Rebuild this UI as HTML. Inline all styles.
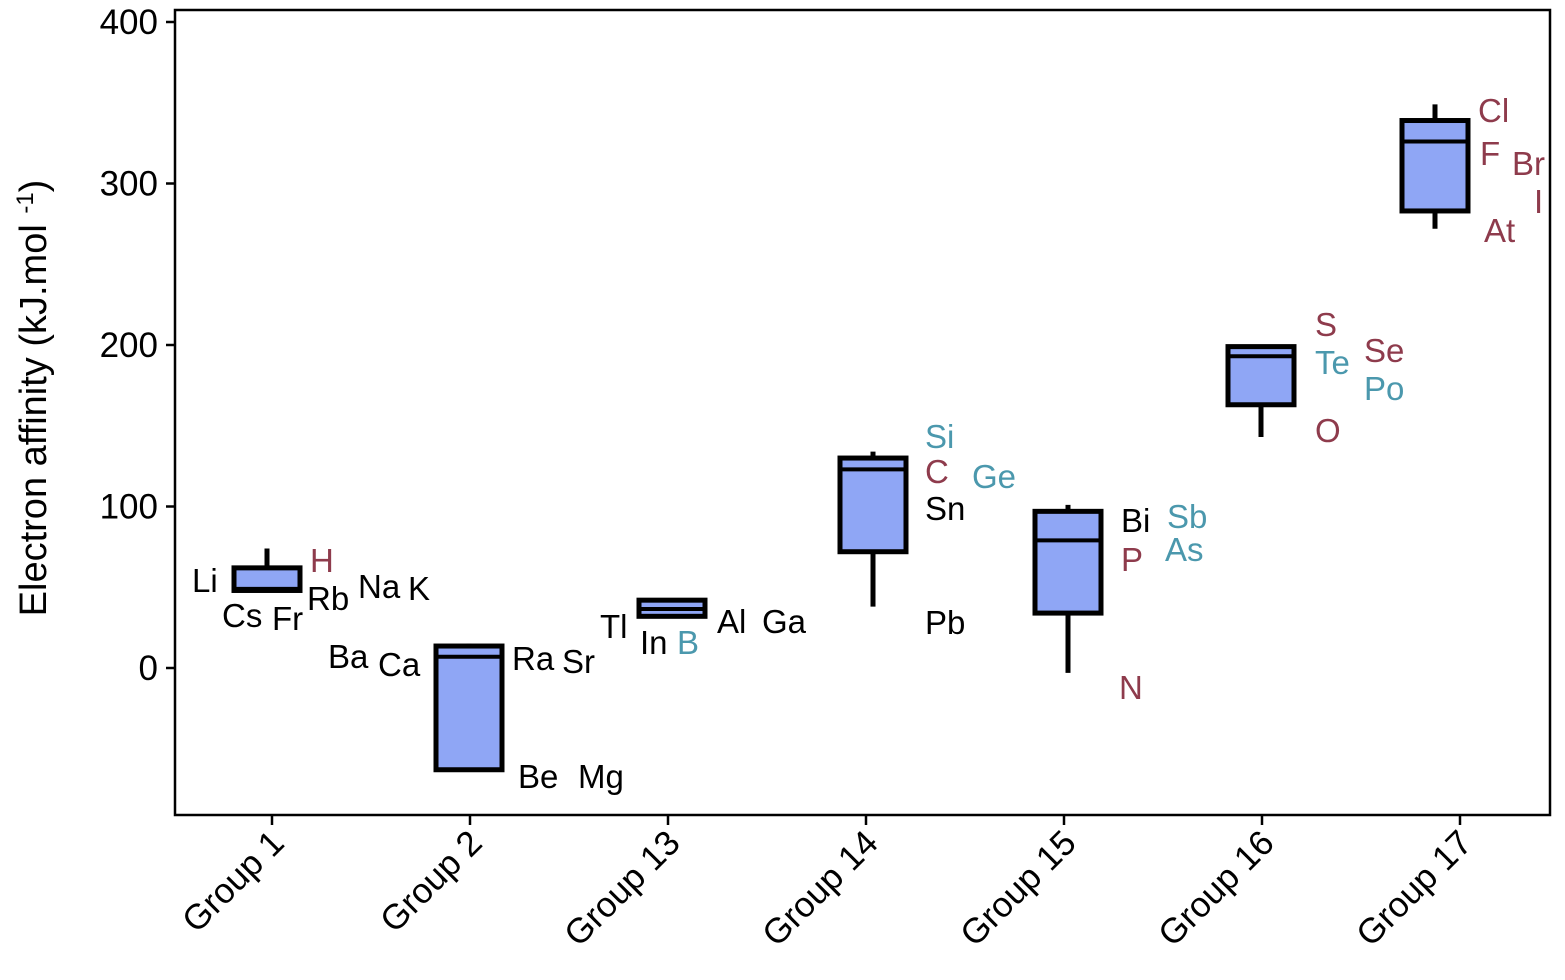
<!DOCTYPE html>
<html><head><meta charset="utf-8"><style>
html,body{margin:0;padding:0;background:#fff;}
svg text{font-family:"Liberation Sans",Arial,sans-serif;}
</style></head><body>
<svg id="chart" width="1565" height="975"></svg>
<script>
const groups=["Group 1","Group 2","Group 13","Group 14","Group 15","Group 16","Group 17"];
const whiskerLow=[47,-63,31,38,-3,143,272];
const q1=[48,-63,32,72,34,163,283];
const median=[49,7,36.5,123,79,193,326];
const q3=[62,13.6,42,130,97,199,339];
const whiskerHigh=[74,15,42,134,101,199,349];
const yTicks=[0,100,200,300,400];
const elemNames=["Li","Cs","Fr","H","Rb","Na","K","Ba","Ca","Ra","Sr","Be","Mg","Tl","In","B","Al","Ga","Si","C","Ge","Sn","Pb","Bi","Sb","P","As","N","S","Se","Te","Po","O","Cl","F","Br","I","At"];
const elemColors=["k","k","k","r","k","k","k","k","k","k","k","k","k","k","k","t","k","k","t","r","t","k","k","k","t","r","t","r","r","r","t","t","r","r","r","r","r","r"];
const elemX=[192,222,272,310,307,358,408,328,378,512,562,518,578,600,640,677,717,762,925,925,972,925,925,1121,1167,1121,1165,1119,1315,1364,1315,1364,1315,1478,1480,1512,1534,1484];
const elemY=[592,627,630,572,610,598,600,668,676,670,673,788,788,638,654,654,633,633,448,483,488,520,634,532,528,571,561,699,336,362,374,400,442,122,165,175,213,242];
const colorMap={k:"#000",r:"#8e3b4c",t:"#4b98ad"};
const boxOffset=[-5,-1,4,7,4,-1,-25];
const NS="http://www.w3.org/2000/svg";
const svg=document.getElementById("chart");
const L=175,R=1550,T=10,B=815;
const y=v=>668-v*1.615;
const x=i=>272+i*198;
function mk(tag,attrs,parent){const e=document.createElementNS(NS,tag);for(const k in attrs)e.setAttribute(k,attrs[k]);(parent||svg).appendChild(e);return e;}
const frame=mk("rect",{x:L,y:T,width:R-L,height:B-T,fill:"none",stroke:"#000","stroke-width":2.5});


yTicks.forEach(t=>{
  const ln=mk("line",{x1:L-9,x2:L,y1:y(t),y2:y(t),stroke:"#000","stroke-width":2.5});
  
  
  const tx=mk("text",{x:L-17,y:y(t)+12,"text-anchor":"end","font-size":35});
  tx.textContent=t;
  
  
});
const yl=mk("text",{transform:"translate(46,398) rotate(-90)","text-anchor":"middle","font-size":38});
yl.innerHTML='Electron affinity (kJ.mol <tspan baseline-shift="super" font-size="24">-1</tspan>)';


groups.forEach((g,i)=>{
  const cx=x(i)+boxOffset[i],w=33;
  const tk=mk("line",{x1:x(i),x2:x(i),y1:B,y2:B+10,stroke:"#000","stroke-width":2.5});
  
  
  const tl=mk("text",{transform:`translate(${x(i)+14},${B+30}) rotate(-45)`,"text-anchor":"end","font-size":35});
  tl.textContent=g;
  
  
  const wl=mk("line",{x1:cx,x2:cx,y1:y(whiskerHigh[i]),y2:y(whiskerLow[i]),stroke:"#000","stroke-width":5});
  
  
  const bx=mk("rect",{x:cx-w,y:y(q3[i]),width:2*w,height:y(q1[i])-y(q3[i]),fill:"#8fa6f5",stroke:"#000","stroke-width":5});
  
  
  const md=mk("line",{x1:cx-w,x2:cx+w,y1:y(median[i]),y2:y(median[i]),stroke:"#000","stroke-width":4});
  
  
});
elemNames.forEach((n,i)=>{
  const t=mk("text",{x:elemX[i],y:elemY[i],"font-size":33,fill:colorMap[elemColors[i]]});
  t.textContent=n;
  
  
});
</script>
</body></html>
